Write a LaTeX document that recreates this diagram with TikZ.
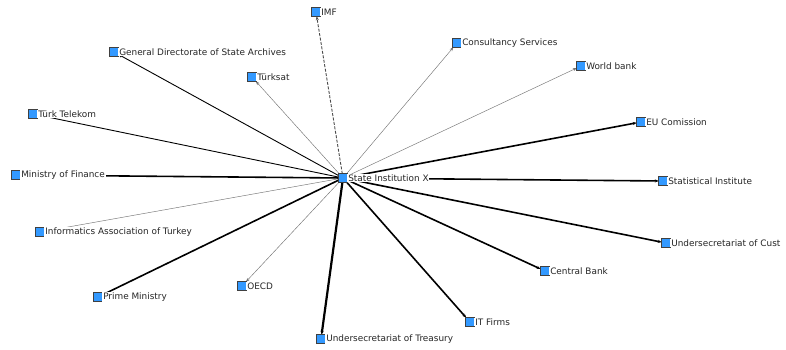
\documentclass[tikz,border=0pt]{standalone}
\usepackage{fontspec}
\setmainfont{DejaVu Sans}
\usetikzlibrary{arrows.meta,backgrounds}
\definecolor{nodeblue}{RGB}{51,153,255}
\tikzset{
  sq/.style={draw=black!75, fill=nodeblue, line width=0.6pt, minimum size=8.5pt, inner sep=0pt, outer sep=0pt},
  lab/.style={font=\fontsize{8.9}{10}\selectfont, text=black!85, fill=white, inner sep=0.8pt},
  tie/.style={-{Stealth[length=4pt,width=3pt]}},
  thin tie/.style={tie, draw=black!55, line width=0.45pt},
  mid tie/.style={tie, draw=black, line width=0.9pt},
  thick tie/.style={tie, draw=black, line width=1.6pt},
  heavy tie/.style={tie, draw=black, line width=2.2pt},
  dash tie/.style={tie, draw=black!70, line width=0.9pt, dash pattern=on 3pt off 1.5pt},
}
\begin{document}
\begin{tikzpicture}[x=1pt,y=-1pt]
\useasboundingbox (0,0) rectangle (786,349);
\node[sq, label={[lab]right:State Institution X}] (c) at (343,178) {};
\node[sq, label={[lab]right:IMF}] (imf) at (316,12) {};
\node[sq, label={[lab]right:General Directorate of State Archives}] (gd) at (114,52) {};
\node[sq, label={[lab]right:Türksat}] (ts) at (252,77) {};
\node[sq, label={[lab]right:Türk Telekom}] (tt) at (33,114) {};
\node[sq, label={[lab]right:Ministry of Finance}] (mf) at (16,175) {};
\node[sq, label={[lab]right:Informatics Association of Turkey}] (ia) at (40,232) {};
\node[sq, label={[lab]right:Prime Ministry}] (pm) at (98,297) {};
\node[sq, label={[lab]right:OECD}] (oecd) at (242,286) {};
\node[sq, label={[lab]right:Undersecretariat of Treasury}] (ut) at (321,339) {};
\node[sq, label={[lab]right:IT Firms}] (it) at (470,322) {};
\node[sq, label={[lab]right:Central Bank}] (cb) at (545,271) {};
\node[sq, label={[lab]right:Undersecretariat of Cust}] (uc) at (666,243) {};
\node[sq, label={[lab]right:Statistical Institute}] (si) at (663,181) {};
\node[sq, label={[lab]right:EU Comission}] (eu) at (641,122) {};
\node[sq, label={[lab]right:World bank}] (wb) at (581,66) {};
\node[sq, label={[lab]right:Consultancy Services}] (cs) at (457,43) {};

\begin{scope}[on background layer]
\draw[dash tie] (c) -- (imf);
\draw[mid tie] (c) -- (gd);
\draw[thin tie] (c) -- (ts);
\draw[mid tie] (c) -- (tt);
\draw[thick tie] (c) -- (mf);
\draw[thin tie] (c) -- (ia);
\draw[thick tie] (c) -- (pm);
\draw[thin tie] (c) -- (oecd);
\draw[heavy tie] (c) -- (ut);
\draw[thick tie] (c) -- (it);
\draw[thick tie] (c) -- (cb);
\draw[thick tie] (c) -- (uc);
\draw[thick tie] (c) -- (si);
\draw[thick tie] (c) -- (eu);
\draw[thin tie] (c) -- (wb);
\draw[thin tie] (c) -- (cs);
\end{scope}
\end{tikzpicture}
\end{document}
